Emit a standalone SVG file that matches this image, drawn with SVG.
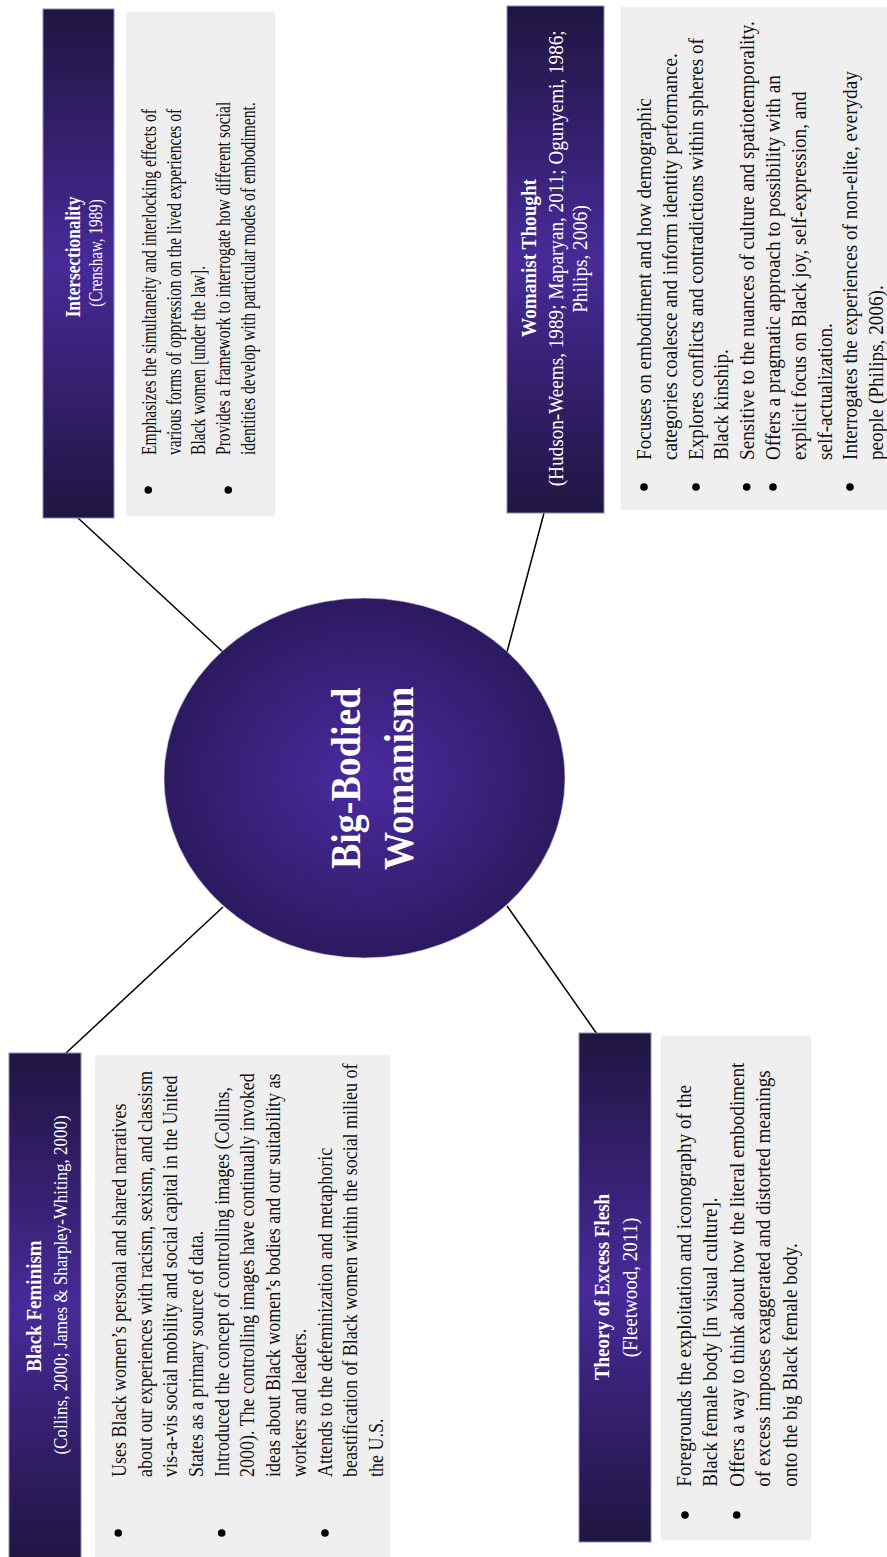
<svg xmlns="http://www.w3.org/2000/svg" width="887" height="1557" viewBox="0 0 887 1557">
<style>
.hdr{stroke:#8f88b8;stroke-width:1}
.box{fill:#efefef}
.t{font-family:"Liberation Serif","Times New Roman",serif;}
.ht{fill:#ffffff;font-weight:bold;text-anchor:middle}
.hs{fill:#ffffff;text-anchor:middle}
.ct{fill:#111111}
.bul{fill:#000}
.conn{stroke:#000;stroke-width:1.5;fill:none}
.ctr{fill:#ffffff;font-weight:bold;text-anchor:middle;font-size:38px}
</style>
<defs>
<linearGradient id="hg" x1="0" y1="0" x2="0" y2="1">
<stop offset="0" stop-color="#201541"/>
<stop offset="0.5" stop-color="#472a98"/>
<stop offset="1" stop-color="#201541"/>
</linearGradient>
<radialGradient id="cg" cx="0.5" cy="0.5" r="0.5">
<stop offset="0" stop-color="#4a2ba0"/>
<stop offset="1" stop-color="#2c1a60"/>
</radialGradient>
</defs>
<rect width="887" height="1557" fill="#ffffff"/>
<g id="connectors">
<line class="conn" x1="65" y1="1054" x2="223" y2="907"/>
<line class="conn" x1="78" y1="518" x2="223" y2="652"/>
<line class="conn" x1="544" y1="513" x2="507" y2="652"/>
<line class="conn" x1="507" y1="906" x2="597" y2="1034"/>
</g>
<g id="center">
<ellipse cx="364.5" cy="778" rx="200.5" ry="180" fill="url(#cg)" stroke="#d8d4e4" stroke-width="0.6"/>
<text class="t ctr" transform="translate(360,778.3) scale(1.11,1) rotate(-90)">Big-Bodied</text>
<text class="t ctr" transform="translate(412.7,778.3) scale(1.11,1) rotate(-90)">Womanism</text>
</g>
<g id="black-feminism">
<rect class="hdr" x="9" y="1053" width="72" height="510" fill="url(#hg)"/>
<text class="t ht" font-size="19" transform="translate(41,1306) scale(1.11,1) rotate(-90)">Black Feminism</text>
<text class="t hs" font-size="17" transform="translate(67,1285) scale(1.11,1) rotate(-90)">(Collins, 2000; James &amp; Sharpley-Whiting, 2000)</text>
<rect class="box" x="95" y="1055" width="295" height="510"/>
<circle class="bul" cx="118.3" cy="1533" r="3.8"/>
<circle class="bul" cx="221.7" cy="1533" r="3.8"/>
<circle class="bul" cx="325" cy="1533" r="3.8"/>
<text class="t ct" font-size="18" transform="translate(126,1477) scale(1.11,1) rotate(-90)"><tspan x="0" y="0">Uses Black women’s personal and shared narratives</tspan><tspan x="0" dy="23.15">about our experiences with racism, sexism, and classism</tspan><tspan x="0" dy="23.15">vis-a-vis social mobility and social capital in the United</tspan><tspan x="0" dy="23.15">States as a primary source of data.</tspan><tspan x="0" dy="23.15">Introduced the concept of controlling images (Collins,</tspan><tspan x="0" dy="23.15">2000). The controlling images have continually invoked</tspan><tspan x="0" dy="23.15">ideas about Black women’s bodies and our suitability as</tspan><tspan x="0" dy="23.15">workers and leaders.</tspan><tspan x="0" dy="23.15">Attends to the defeminization and metaphoric</tspan><tspan x="0" dy="23.15">beastification of Black women within the social milieu of</tspan><tspan x="0" dy="23.15">the U.S.</tspan></text>
</g>
<g id="intersectionality">
<rect class="hdr" x="43" y="9" width="71" height="509" fill="url(#hg)"/>
<text class="t ht" font-size="19.4" transform="translate(80,257) scale(1.11,0.89) rotate(-90)">Intersectionality</text>
<text class="t hs" font-size="17" transform="translate(101.5,253) scale(1.11,0.89) rotate(-90)">(Crenshaw, 1989)</text>
<rect class="box" x="126" y="12" width="149" height="504"/>
<circle class="bul" cx="148.3" cy="490" r="3.8"/>
<circle class="bul" cx="228.3" cy="490" r="3.8"/>
<text class="t ct" font-size="18" transform="translate(156,455) scale(1.11,0.867) rotate(-90)"><tspan x="0" y="0">Emphasizes the simultaneity and interlocking effects of</tspan><tspan x="0" dy="22.2">various forms of oppression on the lived experiences of</tspan><tspan x="0" dy="22.2">Black women [under the law].</tspan><tspan x="0" dy="22.2">Provides a framework to interrogate how different social</tspan><tspan x="0" dy="22.2">identities develop with particular modes of embodiment.</tspan></text>
</g>
<g id="womanist-thought">
<rect class="hdr" x="507" y="6" width="97" height="507" fill="url(#hg)"/>
<text class="t ht" font-size="19.2" transform="translate(536,258) scale(1.11,1) rotate(-90)">Womanist Thought</text>
<text class="t hs" font-size="19.2" transform="translate(563,258.3) scale(1.11,1) rotate(-90)">(Hudson-Weems, 1989; Maparyan, 2011; Ogunyemi, 1986;</text>
<text class="t hs" font-size="19.2" transform="translate(587,259) scale(1.11,1) rotate(-90)">Philips, 2006)</text>
<rect class="box" x="621" y="7" width="266" height="503"/>
<circle class="bul" cx="644" cy="487" r="3.8"/>
<circle class="bul" cx="696" cy="487" r="3.8"/>
<circle class="bul" cx="746.7" cy="487" r="3.8"/>
<circle class="bul" cx="773" cy="487" r="3.8"/>
<circle class="bul" cx="850" cy="487" r="3.8"/>
<text class="t ct" font-size="19.2" transform="translate(651,460) scale(1.11,1) rotate(-90)"><tspan x="0" y="0">Focuses on embodiment and how demographic</tspan><tspan x="0" dy="23.24">categories coalesce and inform identity performance.</tspan><tspan x="0" dy="23.24">Explores conflicts and contradictions within spheres of</tspan><tspan x="0" dy="23.24">Black kinship.</tspan><tspan x="0" dy="23.24">Sensitive to the nuances of culture and spatiotemporality.</tspan><tspan x="0" dy="23.24">Offers a pragmatic approach to possibility with an</tspan><tspan x="0" dy="23.24">explicit focus on Black joy, self-expression, and</tspan><tspan x="0" dy="23.24">self-actualization.</tspan><tspan x="0" dy="23.24">Interrogates the experiences of non-elite, everyday</tspan><tspan x="0" dy="23.24">people (Philips, 2006).</tspan></text>
</g>
<g id="excess-flesh">
<rect class="hdr" x="579" y="1033" width="72" height="509" fill="url(#hg)"/>
<text class="t ht" font-size="19" transform="translate(609,1287) scale(1.11,1) rotate(-90)">Theory of Excess Flesh</text>
<text class="t hs" font-size="19" transform="translate(637,1287.5) scale(1.11,1) rotate(-90)">(Fleetwood, 2011)</text>
<rect class="box" x="661" y="1036" width="150" height="504"/>
<circle class="bul" cx="685" cy="1515" r="3.8"/>
<circle class="bul" cx="736.7" cy="1515" r="3.8"/>
<text class="t ct" font-size="19.1" transform="translate(691,1486.7) scale(1.11,1) rotate(-90)"><tspan x="0" y="0">Foregrounds the exploitation and iconography of the</tspan><tspan x="0" dy="23.87">Black female body [in visual culture].</tspan><tspan x="0" dy="23.87">Offers a way to think about how the literal embodiment</tspan><tspan x="0" dy="23.87">of excess imposes exaggerated and distorted meanings</tspan><tspan x="0" dy="23.87">onto the big Black female body.</tspan></text>
</g>
</svg>
